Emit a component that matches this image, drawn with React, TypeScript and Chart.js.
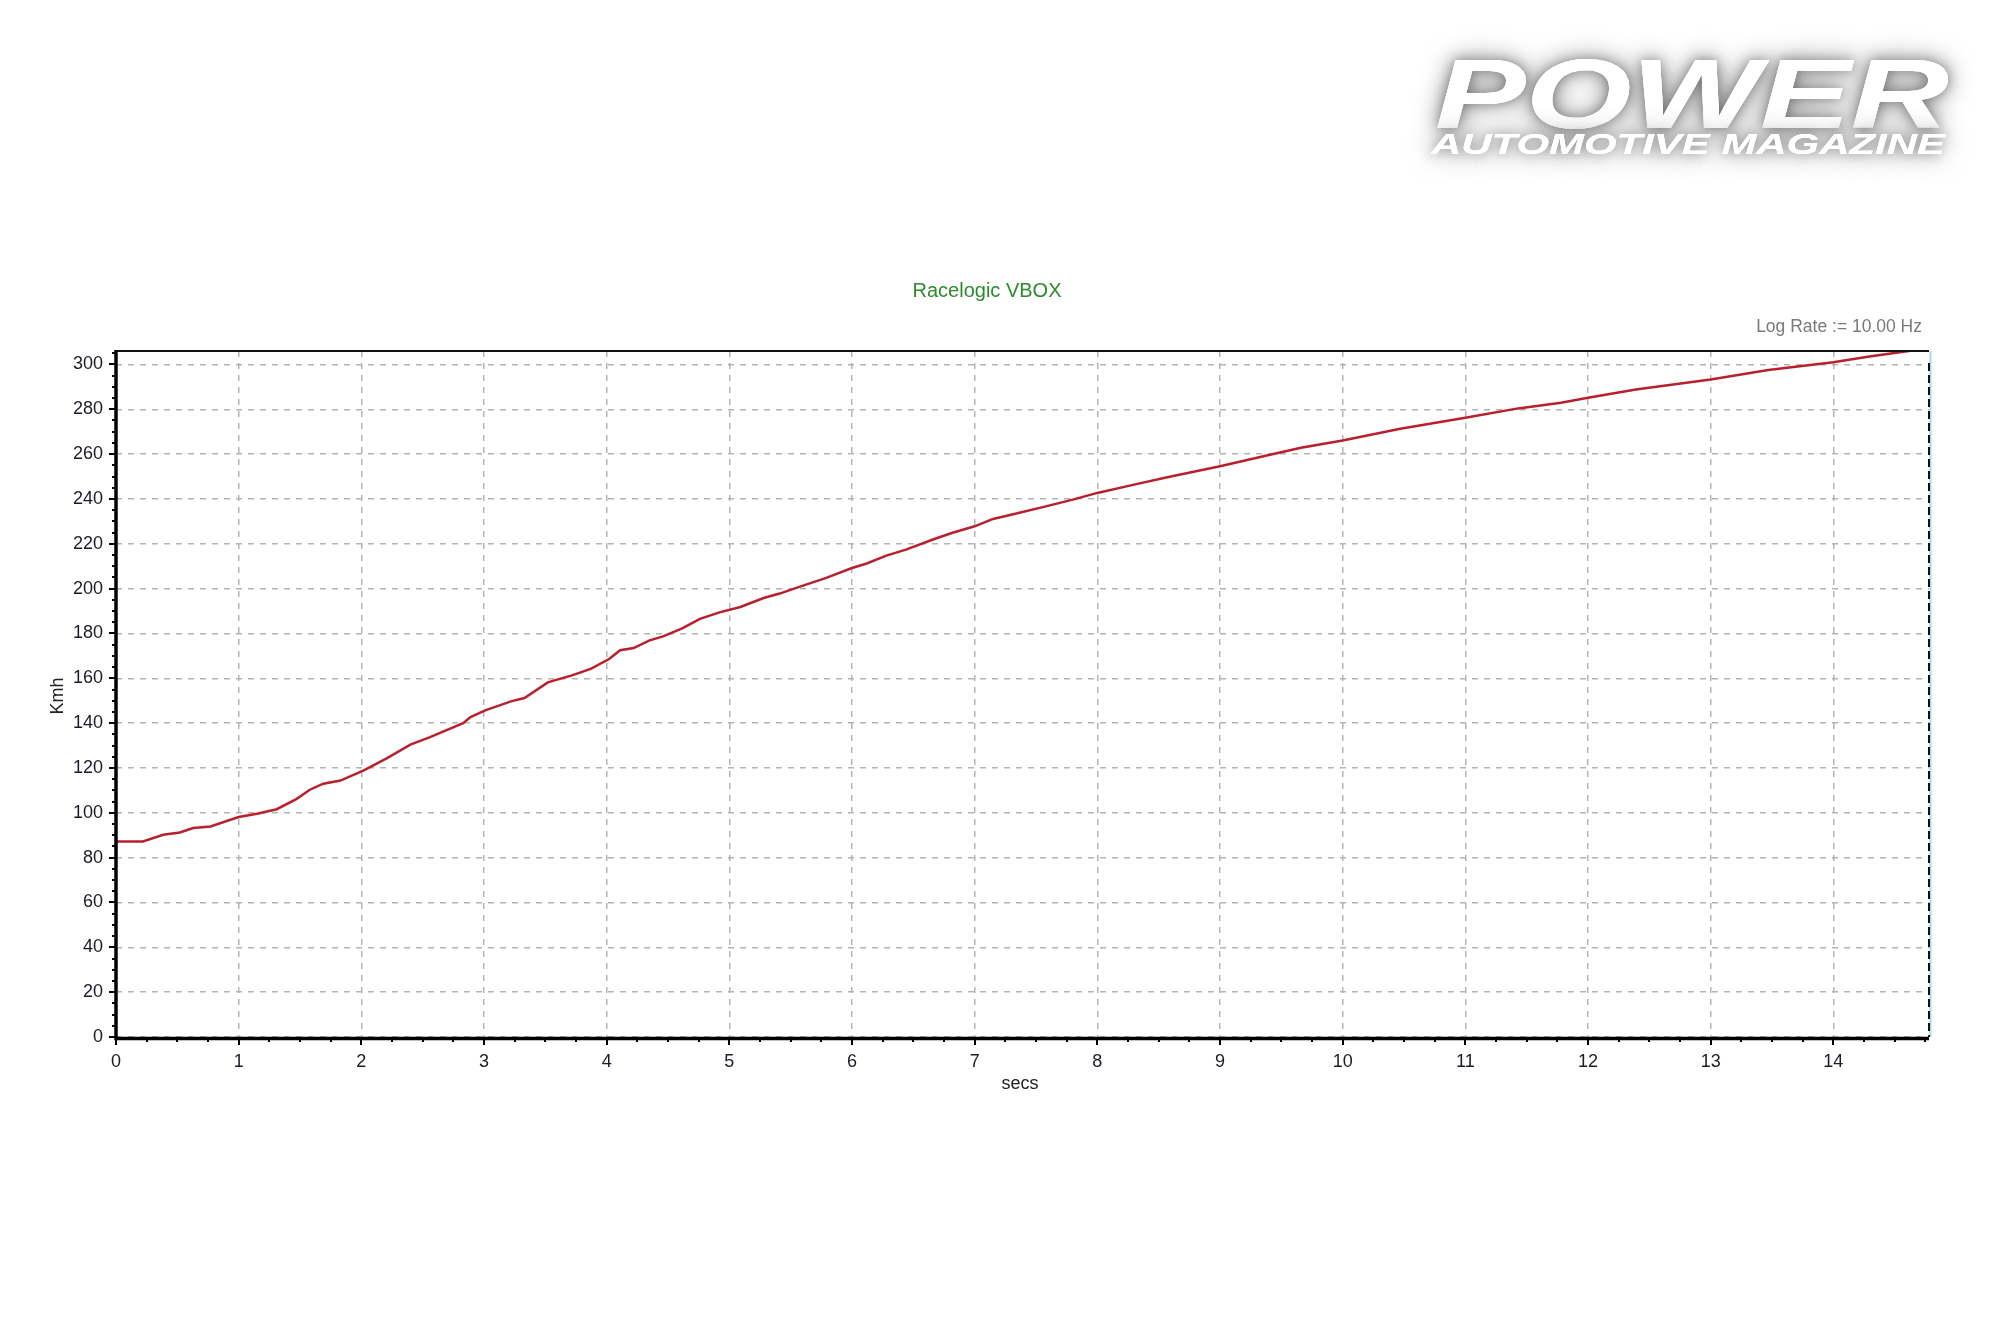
import React, { useEffect, useRef } from "react";
import { Chart, registerables } from "chart.js";

Chart.register(...registerables);

// ---- data ----
const timeSecs: number[] = [
  0, 0.22, 0.385, 0.52, 0.63, 0.77, 1.0, 1.15, 1.31, 1.47, 1.58, 1.69, 1.83, 2.02, 2.21, 2.4, 2.56,
  2.83, 2.89, 3.01, 3.22, 3.33, 3.52, 3.71, 3.87, 4.02, 4.11, 4.22, 4.35, 4.46, 4.62, 4.76, 4.92,
  5.09, 5.28, 5.41, 5.57, 5.79, 6.0, 6.12, 6.28, 6.44, 6.66, 6.82, 7.0, 7.15, 7.34, 7.58, 7.8, 8.0,
  8.3, 8.57, 9.0, 9.39, 9.66, 10.0, 10.47, 11.0, 11.43, 11.78, 12.0, 12.39, 13.0, 13.47, 14.0, 14.28,
  14.6, 14.7,
];
const speedKmh: number[] = [
  87.2, 87.2, 90.2, 91.2, 93.2, 93.9, 98.1, 99.6, 101.6, 106.1, 110.3, 113, 114.4, 118.9, 124.4,
  130.4, 133.8, 140.0, 142.7, 145.7, 149.7, 151.2, 158.2, 161.2, 164.2, 168.6, 172.5, 173.5, 176.9,
  178.7, 182.4, 186.5, 189.4, 191.8, 195.8, 197.8, 200.8, 204.8, 209.2, 211.2, 214.7, 217.4, 221.9,
  224.9, 227.8, 231.1, 233.5, 236.7, 239.7, 242.7, 246.4, 249.7, 254.6, 259.5, 262.8, 266.1, 271.3,
  276.2, 280.4, 282.9, 285.1, 288.8, 293.3, 297.5, 301.0, 303.4, 305.9, 306.6,
];
const xMax = 14.78;
const yMax = 306;
const xStep = 1;
const xMinorStep = 0.25;
const yStep = 20;
const yMinorStep = 5;

const chartTitle = "Racelogic VBOX";
const logRateText = "Log Rate := 10.00 Hz";
const xTitle = "secs";
const yTitle = "Kmh";
const logoTop = "POWER";
const logoBottom = "AUTOMOTIVE MAGAZINE";

const FONT = '"Liberation Sans", Arial, sans-serif';

const decor = {
  id: "decor",
  beforeDraw(chart: any) {
    const ctx = chart.ctx;
    ctx.save();
    ctx.fillStyle = "#ffffff";
    ctx.fillRect(0, 0, chart.width, chart.height);
    // logo
    const drawStretched = (text: string, font: string, x: number, base: number, targetW: number) => {
      ctx.save();
      ctx.font = font;
      const w = ctx.measureText(text).width;
      ctx.translate(x, base);
      ctx.scale(targetW / w, 1);
      ctx.fillStyle = "#ffffff";
      ctx.shadowColor = "rgba(0,0,0,0.5)";
      ctx.shadowBlur = 26;
      ctx.fillText(text, 0, 0);
      ctx.shadowBlur = 12;
      ctx.shadowColor = "rgba(0,0,0,0.35)";
      ctx.fillText(text, 0, 0);
      ctx.shadowColor = "transparent";
      ctx.fillText(text, 0, 0);
      ctx.restore();
    };
    ctx.textBaseline = "alphabetic";
    ctx.textAlign = "left";
    drawStretched(logoTop, `italic bold 99px ${FONT}`, 1435, 128, 514);
    drawStretched(logoBottom, `italic bold 30px ${FONT}`, 1431, 154, 514);
    ctx.restore();
  },
  afterDraw(chart: any) {
    const ctx = chart.ctx;
    const { left, right, top, bottom } = chart.chartArea;
    const xs = chart.scales.x;
    const ys = chart.scales.y;
    ctx.save();
    // top frame
    ctx.strokeStyle = "#111";
    ctx.lineWidth = 2;
    ctx.beginPath();
    ctx.moveTo(left, top);
    ctx.lineTo(right, top);
    ctx.stroke();
    // right markers: cyan line + black dashed line
    ctx.strokeStyle = "#9fdbe6";
    ctx.lineWidth = 2;
    ctx.beginPath();
    ctx.moveTo(right + 1.5, top);
    ctx.lineTo(right + 1.5, bottom);
    ctx.stroke();
    ctx.strokeStyle = "#111";
    ctx.lineWidth = 2;
    ctx.setLineDash([8, 4]);
    ctx.beginPath();
    ctx.moveTo(right, top + 12);
    ctx.lineTo(right, bottom);
    ctx.stroke();
    ctx.setLineDash([]);
    // axis lines
    ctx.strokeStyle = "#000";
    ctx.lineWidth = 3.5;
    ctx.beginPath();
    ctx.moveTo(left, top - 1);
    ctx.lineTo(left, bottom + 1.5);
    ctx.lineTo(right, bottom + 1.5);
    ctx.stroke();
    // ticks
    ctx.lineWidth = 2;
    for (let v = 0; v <= yMax + 0.001; v += yMinorStep) {
      const py = Math.round(ys.getPixelForValue(v));
      const major = Math.abs(v % yStep) < 0.001;
      ctx.beginPath();
      ctx.moveTo(left - (major ? 7 : 4), py);
      ctx.lineTo(left, py);
      ctx.stroke();
    }
    for (let t = 0; t <= xMax + 0.001; t += xMinorStep) {
      const px = Math.round(xs.getPixelForValue(t));
      const major = Math.abs(t % xStep) < 0.001;
      ctx.beginPath();
      ctx.moveTo(px, bottom);
      ctx.lineTo(px, bottom + (major ? 8 : 5));
      ctx.stroke();
    }
    // texts
    ctx.textAlign = "center";
    ctx.textBaseline = "middle";
    ctx.fillStyle = "#2f8a2f";
    ctx.font = `20px ${FONT}`;
    ctx.fillText(chartTitle, 987, 291);
    ctx.fillStyle = "#7a7a7a";
    ctx.font = `17.5px ${FONT}`;
    ctx.textAlign = "right";
    ctx.fillText(logRateText, 1922, 327);
    ctx.fillStyle = "#222";
    ctx.textAlign = "center";
    ctx.font = `18px ${FONT}`;
    ctx.fillText(xTitle, 1020, 1084);
    ctx.save();
    ctx.translate(58, 696);
    ctx.rotate(-Math.PI / 2);
    ctx.fillText(yTitle, 0, 0);
    ctx.restore();
    ctx.restore();
  },
};

export default function App() {
  const ref = useRef<HTMLCanvasElement | null>(null);
  useEffect(() => {
    if (!ref.current) return;
    const points = timeSecs.map((t, i) => ({ x: t, y: speedKmh[i] }));
    const chart = new Chart(ref.current, {
      type: "line",
      data: {
        datasets: [
          {
            label: "Speed",
            data: points,
            borderColor: "#b8202e",
            borderWidth: 2.5,
            pointRadius: 0,
            tension: 0,
            fill: false,
          },
        ],
      },
      options: {
        animation: false,
        responsive: false,
        devicePixelRatio: 1,
        layout: { padding: { left: 0, top: 351, right: 71, bottom: 0 } },
        plugins: { legend: { display: false }, tooltip: { enabled: false }, title: { display: false } },
        scales: {
          x: {
            type: "linear",
            min: 0,
            max: xMax,
            afterFit: (s: any) => {
              s.height = 296;
            },
            ticks: {
              stepSize: xStep,
              includeBounds: false,
              autoSkip: false,
              maxRotation: 0,
              padding: 14,
              color: "#1c1c28",
              font: { family: FONT, size: 18 },
            },
            grid: { color: "#b4b4b4", lineWidth: 1.5, drawTicks: false },
            border: { display: false, dash: [6, 6] },
          },
          y: {
            type: "linear",
            min: 0,
            max: yMax,
            afterFit: (s: any) => {
              s.width = 116;
            },
            ticks: {
              stepSize: yStep,
              includeBounds: false,
              autoSkip: false,
              padding: 13,
              color: "#1c1c28",
              font: { family: FONT, size: 18 },
            },
            grid: { color: "#b4b4b4", lineWidth: 1.5, drawTicks: false },
            border: { display: false, dash: [6, 6] },
          },
        },
      },
      plugins: [decor],
    });
    return () => chart.destroy();
  }, []);
  return (
    <div style={{ position: "fixed", left: 0, top: 0, width: 2000, height: 1333, background: "#fff" }}>
      <canvas ref={ref} width={2000} height={1333} style={{ display: "block" }} />
    </div>
  );
}
